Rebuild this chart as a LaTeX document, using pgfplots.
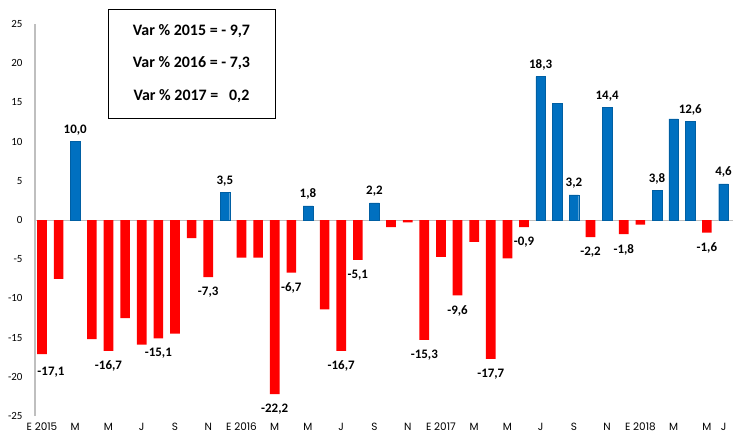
\documentclass[border=0pt]{standalone}
\usepackage{fontspec}
\setmainfont{Carlito}
\newfontfamily\gothic{Poppins}
\usepackage{pgfplots}
\usepackage{pgfplotstable}
\pgfplotsset{compat=1.18}

\definecolor{barblue}{HTML}{0070C0}
\definecolor{barred}{HTML}{FF0000}
\definecolor{axisgray}{HTML}{BFBFBF}

% monthly change, Jan 2015 (0) .. Jun 2018 (41)
\pgfplotstableread{
x y
2 10.0
11 3.5
16 1.8
20 2.2
30 18.3
31 14.9
32 3.2
34 14.4
37 3.8
38 12.9
39 12.6
41 4.6
}\pos
\pgfplotstableread{
x y
0 -17.1
1 -7.5
3 -15.2
4 -16.7
5 -12.5
6 -15.9
7 -15.1
8 -14.5
9 -2.3
10 -7.3
12 -4.8
13 -4.8
14 -22.2
15 -6.7
17 -11.4
18 -16.7
19 -5.1
21 -0.9
22 -0.3
23 -15.3
24 -4.7
25 -9.6
26 -2.8
27 -17.7
28 -4.9
29 -0.9
33 -2.2
35 -1.8
36 -0.6
40 -1.6
}\neg
% labelled points
\pgfplotstableread{
x y
2 10.0
11 3.5
16 1.8
20 2.2
30 18.3
32 3.2
34 14.4
37 3.8
39 12.6
41 4.6
}\poslab
\pgfplotstableread{
x y
4 -16.7
7 -15.1
10 -7.3
14 -22.2
15 -6.7
18 -16.7
19 -5.1
23 -15.3
25 -9.6
27 -17.7
29 -0.9
33 -2.2
35 -1.8
40 -1.6
}\neglab
\pgfplotstableread{
x y
0 -17.1
}\speclab

\pgfplotsset{
  vallab/.style={
    nodes near coords={\pgfmathprintnumber[fixed,fixed zerofill,precision=1,use comma,assume math mode=true]{\pgfplotspointmeta}},
    every node near coord/.append style={font=\bfseries\fontsize{13}{14}\selectfont, text=black, inner sep=0pt},
  },
}

\begin{document}
\begin{tikzpicture}
\begin{axis}[
    scale only axis,
    width=698bp, height=392bp,
    xmin=-0.42, xmax=41.57,
    ymin=-25, ymax=25,
    ytick={-25,-20,...,25},
    xtick={0,2,...,40,41},
    xticklabels={E 2015,M,M,J,S,N,E 2016,M,M,J,S,N,E 2017,M,M,J,S,N,E 2018,M,M,J},
    separate axis lines,
    axis x line*=bottom,
    axis y line*=left,
    x axis line style={draw=none},
    y axis line style={draw=axisgray, line width=1.5bp, -},
    major tick length=0pt,
    /pgf/number format/assume math mode=true,
    yticklabel style={font=\fontsize{11}{12}\selectfont, xshift=-9bp},
    xticklabel style={font=\gothic\fontsize{10.5}{12}\selectfont, anchor=north, inner sep=0pt, yshift=-7bp},
    extra y ticks={0},
    extra y tick labels={},
    extra y tick style={grid=major, major grid style={draw=axisgray, line width=1bp}},
    clip=false,
]
\addplot[ybar, bar width=0.58, bar shift=0pt, fill=barblue, draw=barblue!85!black, line width=0.3bp] table[x=x, y=y] {\pos};
\addplot[ybar, bar width=0.58, bar shift=0pt, fill=barred, draw=none] table[x=x, y=y] {\neg};
\addplot[draw=none, mark=none, vallab,
  every node near coord/.append style={anchor=south, yshift=6bp}] table[x=x, y=y] {\poslab};
\addplot[draw=none, mark=none, vallab,
  every node near coord/.append style={anchor=north, yshift=-10bp}] table[x=x, y=y] {\neglab};
\addplot[draw=none, mark=none, vallab,
  every node near coord/.append style={anchor=north, xshift=9bp, yshift=-13bp}] table[x=x, y=y] {\speclab};
\end{axis}
\node[draw=black, line width=0.8bp, minimum width=167bp, minimum height=109bp, inner sep=0pt,
      align=center, font=\bfseries\fontsize{16}{33}\selectfont]
  at (156.5bp,352.5bp) {Var \% 2015 = - 9,7\\Var \% 2016 = - 7,3\\Var \% 2017 = \ \ 0,2};
\pgfresetboundingbox
\useasboundingbox (-35bp,-19bp) rectangle (698bp,416bp);
\end{tikzpicture}
\end{document}
